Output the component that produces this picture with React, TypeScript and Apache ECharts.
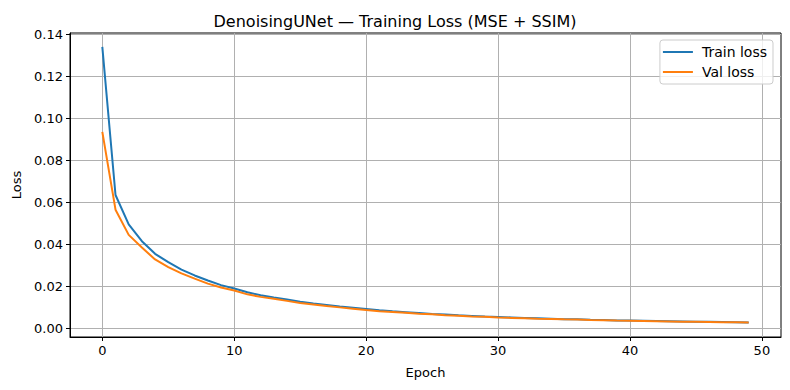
import React, { useEffect, useRef } from "react";
import * as echarts from "echarts";

const epochs = [
  0, 1, 2, 3, 4, 5, 6, 7, 8, 9, 10, 11, 12, 13, 14, 15, 16, 17, 18, 19, 20, 21, 22, 23, 24,
  25, 26, 27, 28, 29, 30, 31, 32, 33, 34, 35, 36, 37, 38, 39, 40, 41, 42, 43, 44, 45, 46, 47, 48, 49,
];
const trainLoss = [
  0.134, 0.0635, 0.0495, 0.0415, 0.0355, 0.0315, 0.028, 0.0252, 0.0228, 0.0206,
  0.019, 0.0172, 0.0158, 0.0147, 0.0137, 0.0127, 0.0118, 0.0111, 0.0104, 0.0098,
  0.0092, 0.0086, 0.0081, 0.0077, 0.0073, 0.0069, 0.0066, 0.0062, 0.0059, 0.0056,
  0.0054, 0.0052, 0.005, 0.0048, 0.0046, 0.0044, 0.0043, 0.0041, 0.004, 0.0038,
  0.0037, 0.0036, 0.0035, 0.0034, 0.0033, 0.0032, 0.0031, 0.003, 0.0029, 0.0028,
];
const valLoss = [
  0.0935, 0.0565, 0.0445, 0.0385, 0.0328, 0.0292, 0.0262, 0.0237, 0.0213, 0.0195,
  0.018, 0.0162, 0.015, 0.0141, 0.0131, 0.0121, 0.0114, 0.0106, 0.01, 0.0094,
  0.0087, 0.0082, 0.0078, 0.0074, 0.007, 0.0067, 0.0063, 0.006, 0.0057, 0.0055,
  0.0052, 0.005, 0.0048, 0.0046, 0.0045, 0.0043, 0.0042, 0.004, 0.0039, 0.0037,
  0.0036, 0.0035, 0.0034, 0.0033, 0.0032, 0.0031, 0.003, 0.0029, 0.0029, 0.0028,
];
const xTicks = [0, 10, 20, 30, 40, 50];
const yTicks = [0, 0.02, 0.04, 0.06, 0.08, 0.1, 0.12, 0.14];

const FONT = "DejaVu Sans";

export default function App() {
  const ref = useRef<HTMLDivElement>(null);
  useEffect(() => {
    if (!ref.current) return;
    const chart = echarts.init(ref.current, null, { renderer: "svg" });
    const axisCommon = {
      axisLine: { show: true, onZero: false, lineStyle: { color: "#000", width: 1 } },
      axisTick: { show: true, inside: false, length: 4, lineStyle: { color: "#000", width: 1 } },
      splitLine: { show: true, lineStyle: { color: "#b0b0b0", width: 1 } },
      nameTextStyle: { color: "#000", fontFamily: FONT, fontSize: 13 },
    };
    chart.setOption({
      animation: false,
      backgroundColor: "#fff",
      textStyle: { fontFamily: FONT },
      title: {
        text: "DenoisingUNet — Training Loss (MSE + SSIM)",
        left: "center",
        top: 8,
        textStyle: { fontFamily: FONT, fontSize: 16, fontWeight: "normal", color: "#000" },
      },
      legend: {
        data: ["Train loss", "Val loss"],
        orient: "vertical",
        right: 17,
        top: 40,
        itemWidth: 30,
        itemHeight: 2,
        itemGap: 6,
        padding: [5, 6, 5, 3],
        borderColor: "#cccccc",
        borderWidth: 1,
        borderRadius: 3,
        backgroundColor: "rgba(255,255,255,0.8)",
        icon: "rect",
        textStyle: { fontFamily: FONT, fontSize: 14, color: "#000", padding: [0, 0, 0, 4] },
      },
      grid: {
        left: 70,
        right: 9,
        top: 33,
        bottom: 53,
        show: true,
        borderColor: "#000",
        borderWidth: 1,
        containLabel: false,
      },
      xAxis: {
        type: "value",
        min: -2.45,
        max: 51.45,
        name: "Epoch",
        nameLocation: "middle",
        nameGap: 29,
        ...axisCommon,
        axisTick: { ...axisCommon.axisTick, customValues: xTicks },
        axisLabel: {
          customValues: xTicks,
          color: "#000",
          fontFamily: FONT,
          fontSize: 13,
          margin: 7,
        },
      },
      yAxis: {
        type: "value",
        min: -0.0041,
        max: 0.1406,
        name: "Loss",
        nameLocation: "middle",
        nameGap: 47,
        ...axisCommon,
        axisTick: { ...axisCommon.axisTick, customValues: yTicks },
        axisLabel: {
          customValues: yTicks,
          color: "#000",
          fontFamily: FONT,
          fontSize: 13,
          margin: 7,
          formatter: (v: number) => v.toFixed(2),
        },
      },
      series: [
        {
          name: "Train loss",
          type: "line",
          data: epochs.map((e, i) => [e, trainLoss[i]]),
          showSymbol: false,
          symbol: "none",
          lineStyle: { color: "#1f77b4", width: 2 },
          itemStyle: { color: "#1f77b4" },
          z: 3,
        },
        {
          name: "Val loss",
          type: "line",
          data: epochs.map((e, i) => [e, valLoss[i]]),
          showSymbol: false,
          symbol: "none",
          lineStyle: { color: "#ff7f0e", width: 2 },
          itemStyle: { color: "#ff7f0e" },
          z: 4,
        },
      ],
    });
    return () => chart.dispose();
  }, []);
  return <div ref={ref} style={{ width: 790, height: 390, position: "absolute", left: 0, top: 0 }} />;
}
